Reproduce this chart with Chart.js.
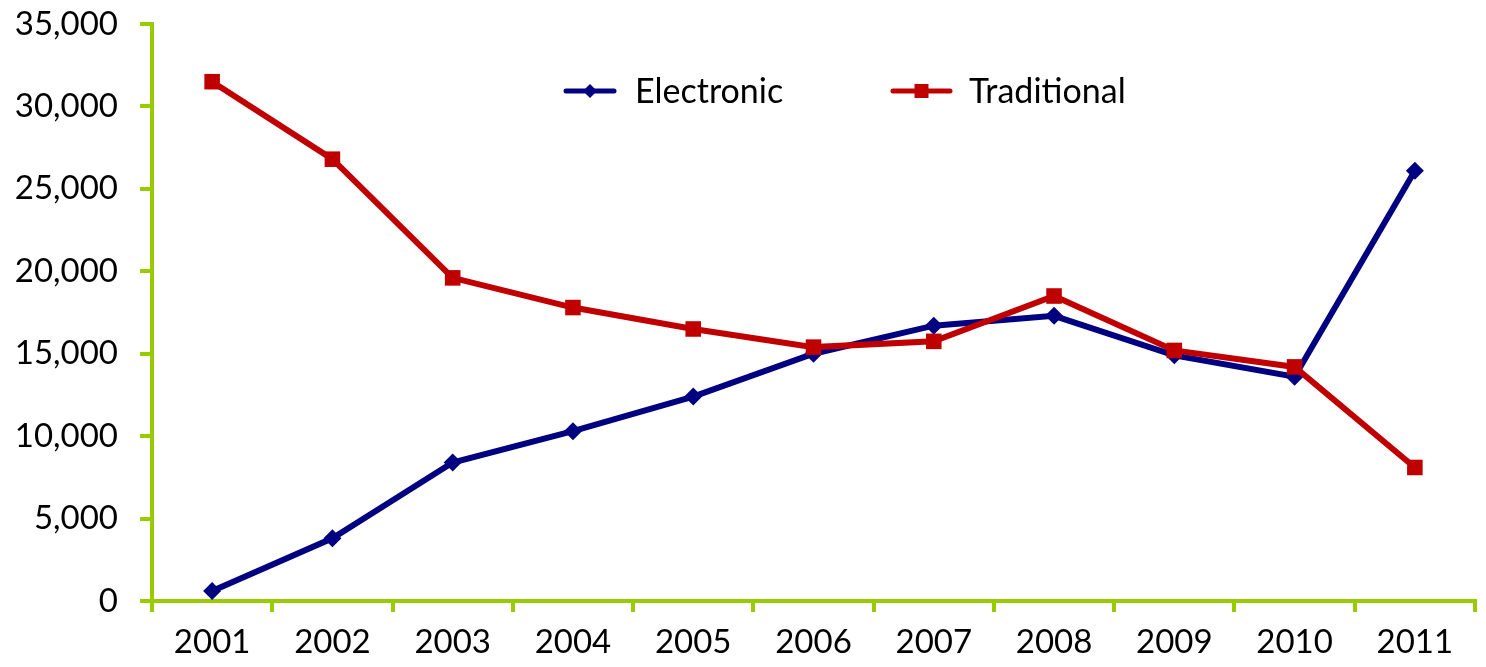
<!DOCTYPE html>
<html>
<head>
<meta charset="utf-8">
<script src="https://cdn.jsdelivr.net/npm/chart.js@4.4.1/dist/chart.umd.min.js"></script>
<style>
  html, body { margin: 0; padding: 0; background: #ffffff; }
  #wrap { width: 1486px; height: 667px; position: relative; }
</style>
</head>
<body>
<div id="wrap"><canvas id="c" width="1486" height="667"></canvas></div>
<script>
const categories = ['2001','2002','2003','2004','2005','2006','2007','2008','2009','2010','2011'];
const electronic = [600, 3800, 8400, 10300, 12400, 15000, 16700, 17300, 14900, 13600, 26100];
const traditional = [31500, 26800, 19600, 17800, 16500, 15400, 15750, 18500, 15200, 14200, 8100];
const seriesNames = ['Electronic', 'Traditional'];
const yTicks = [0, 5000, 10000, 15000, 20000, 25000, 30000, 35000];

const GREEN = '#99CC00';
const BLUE = '#000080';
const RED = '#C00000';
const FONT = 'Lato';

const legendPlugin = {
  id: 'customLegend',
  afterDraw(chart) {
    const ctx = chart.ctx;
    const items = [
      { ds: chart.data.datasets[1], x0: 566, x1: 614, tx: 635 },
      { ds: chart.data.datasets[0], x0: 893, x1: 950, tx: 969 }
    ];
    const y = 91;
    ctx.save();
    items.forEach(it => {
      ctx.strokeStyle = it.ds.borderColor;
      ctx.lineWidth = 5;
      ctx.lineCap = 'round';
      ctx.beginPath();
      ctx.moveTo(it.x0, y);
      ctx.lineTo(it.x1, y);
      ctx.stroke();
      const cx = (it.x0 + it.x1) / 2;
      ctx.fillStyle = it.ds.borderColor;
      ctx.beginPath();
      if (it.ds.pointStyle === 'rectRot') {
        const r = 7;
        ctx.moveTo(cx, y - r); ctx.lineTo(cx + r, y); ctx.lineTo(cx, y + r); ctx.lineTo(cx - r, y);
        ctx.closePath();
      } else {
        ctx.rect(cx - 7, y - 7, 14, 14);
      }
      ctx.fill();
      ctx.fillStyle = '#000000';
      ctx.font = '34px ' + FONT;
      ctx.textBaseline = 'middle';
      ctx.textAlign = 'left';
      ctx.fillText(it.ds.label, it.tx, y + 1);
    });
    ctx.restore();
  }
};

new Chart(document.getElementById('c'), {
  type: 'line',
  data: {
    labels: categories,
    datasets: [
      {
        label: seriesNames[1],
        data: traditional,
        borderColor: RED,
        backgroundColor: RED,
        borderWidth: 6,
        pointStyle: 'rect',
        pointRadius: 11,
        pointBorderWidth: 0,
        pointHoverRadius: 11,
        tension: 0,
        order: 0
      },
      {
        label: seriesNames[0],
        data: electronic,
        borderColor: BLUE,
        backgroundColor: BLUE,
        borderWidth: 6,
        pointStyle: 'rectRot',
        pointRadius: 9,
        pointBorderWidth: 0,
        pointHoverRadius: 9,
        tension: 0,
        order: 1
      }
    ]
  },
  options: {
    responsive: false,
    animation: false,
    layout: { padding: { top: 24, right: 8, left: 0, bottom: 0 } },
    plugins: {
      legend: { display: false },
      tooltip: { enabled: false }
    },
    scales: {
      x: {
        offset: true,
        grid: {
          display: true,
          offset: true,
          drawOnChartArea: false,
          drawTicks: true,
          tickLength: 11,
          color: GREEN,
          lineWidth: 4
        },
        border: { display: true, color: GREEN, width: 4 },
        ticks: {
          color: '#000000',
          font: { family: FONT, size: 33 },
          padding: 11,
          maxRotation: 0,
          autoSkip: false
        },
        afterFit(scale) { scale.height = 66; scale.paddingLeft = 0; scale.paddingRight = 0; }
      },
      y: {
        min: yTicks[0],
        max: yTicks[yTicks.length - 1],
        afterBuildTicks(scale) { scale.ticks = yTicks.map(v => ({ value: v })); },
        grid: {
          display: true,
          drawOnChartArea: false,
          drawTicks: true,
          tickLength: 12,
          color: GREEN,
          lineWidth: 4
        },
        border: { display: true, color: GREEN, width: 4 },
        ticks: {
          color: '#000000',
          font: { family: FONT, size: 33 },
          padding: 22,
          callback: v => v.toLocaleString('en-US')
        },
        afterFit(scale) { scale.width = 152; scale.paddingTop = 0; scale.paddingBottom = 0; }
      }
    }
  },
  plugins: [legendPlugin]
});
</script>
</body>
</html>
